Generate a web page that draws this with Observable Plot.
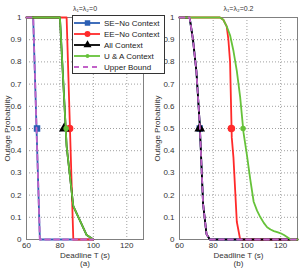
<!DOCTYPE html>
<html><head><meta charset="utf-8">
<script src="https://cdn.jsdelivr.net/npm/d3@7"></script>
<script src="https://cdn.jsdelivr.net/npm/@observablehq/plot@0.6"></script>
<style>
body{margin:0;background:#fff;}
#wrap{position:relative;width:299px;height:270px;overflow:hidden;font-family:"Liberation Sans",Arial,sans-serif;}
#wrap > *{position:absolute;top:0;}
</style></head>
<body><div id="wrap"></div>
<script>
// ---- data ----
const seriesNames = ["SE−No Context","EE−No Context","All Context","U & A Context","Upper Bound"];
const colors = ["#2b5fb4","#ff2a2a","#000000","#66c23a","#c262c8"];
const symbols = ["square","circle","triangle","circle",null];
const xTicks = [60,80,100,120];
const yTicks = [0,0.1,0.2,0.3,0.4,0.5,0.6,0.7,0.8,0.9,1];

// panel (a): lambda = 0
const aSE_T  = [60,64,68,100];            const aSE_P  = [1,1,0,0];
const aEE_T  = [60,84,88,100];            const aEE_P  = [1,1,0,0];
const aAll_T = [60,80,84,88,96,100];      const aAll_P = [1,1,0.42,0.15,0.02,0];
const aUA_T  = [60,80,84,88,96,100];      const aUA_P  = [1,1,0.42,0.15,0.02,0];
const aUB_T  = [60,64,68,100];            const aUB_P  = [1,1,0,0];
const aMarkT = [66.3,85.8,82.6,83.7];     // marker positions at P = 0.5

// panel (b): lambda = 0.2
const bSE_T  = [60,66,68,70,72,74,76,78,130]; const bSE_P  = [1,1,0.9,0.76,0.52,0.16,0.025,0,0];
const bEE_T  = [60,84,86,88,89,90,91,92,94,96,130]; const bEE_P = [1,1,0.99,0.96,0.9,0.8,0.46,0.37,0.08,0,0];
const bAll_T = [60,66,68,70,72,74,76,78,130]; const bAll_P = [1,1,0.9,0.76,0.52,0.16,0.025,0,0];
const bUA_T  = [60,84,86,88,90,92,94,96,98,100,102,104,106,108,110,112,114,116,118,120,122,124,126,130];
const bUA_P  = [1,1,0.99,0.96,0.92,0.85,0.76,0.64,0.48,0.38,0.27,0.17,0.13,0.1,0.075,0.055,0.045,0.038,0.033,0.028,0.02,0.01,0,0];
const bUB_T  = [60,66,68,70,72,74,76,78,130]; const bUB_P  = [1,1,0.9,0.76,0.52,0.16,0.025,0,0];
const bMarkT = [72,90.8,72,97.7];

const font = '"Liberation Sans",Arial,sans-serif';

function zip(T,P){return T.map((t,i)=>({t,p:P[i]}));}

function panel({series, markT, title, sub, width, ml, mr}){
  const marks = [
    Plot.gridX(xTicks.slice(1),{stroke:"#a0a0a0",strokeOpacity:1,strokeDasharray:"1,2"}),
    Plot.gridY(yTicks.slice(1,-1),{stroke:"#a0a0a0",strokeOpacity:1,strokeDasharray:"1,2"}),
    Plot.frame({stroke:"#808080"}),
    Plot.axisX({ticks:xTicks,tickSize:0,tickPadding:3,label:null,fill:"#333"}),
    Plot.axisY({ticks:yTicks,tickSize:0,tickPadding:5,tickFormat:d=>String(d),label:"Outage Probability",labelAnchor:"center",labelOffset:ml-4,labelArrow:"none",fill:"#333"})
  ];
  series.forEach((s,i)=>{
    marks.push(Plot.line(zip(s[0],s[1]),{x:"t",y:"p",stroke:colors[i],strokeWidth:1.8,strokeDasharray:i===4?"5,4":null}));
    if(i<4){
      marks.push(Plot.dot([{t:markT[i],p:0.5}],{x:"t",y:"p",symbol:()=>symbols[i],fill:colors[i],stroke:colors[i],r:i===3?2:(i===0?2.8:3)}));
    }
  });
  marks.push(Plot.text([title],{frameAnchor:"top",dy:-11,fontSize:7,fill:"#333"}));
  marks.push(Plot.text(["Deadline T (s)"],{frameAnchor:"bottom",dy:18,fontSize:8,fill:"#333"}));
  marks.push(Plot.text([sub],{frameAnchor:"bottom",dy:26.5,fontSize:8,fill:"#333"}));
  return Plot.plot({
    width, height:270, marginLeft:ml, marginRight:mr, marginTop:17, marginBottom:31,
    x:{domain:[60,130]}, y:{domain:[0,1]},
    symbol:{type:"identity"},
    style:{fontFamily:font,fontSize:"8px",background:"transparent",overflow:"visible",color:"#333"},
    marks
  });
}

const wrap = document.getElementById("wrap");
const pa = panel({series:[[aSE_T,aSE_P],[aEE_T,aEE_P],[aAll_T,aAll_P],[aUA_T,aUA_P],[aUB_T,aUB_P]],markT:aMarkT,title:"λ₁=λ₂=0",sub:"(a)",width:150,ml:26,mr:7});
pa.style.left="0px";
const pb = panel({series:[[bSE_T,bSE_P],[bEE_T,bEE_P],[bAll_T,bAll_P],[bUA_T,bUA_P],[bUB_T,bUB_P]],markT:bMarkT,title:"λ₁=λ₂=0.2",sub:"(b)",width:149,ml:29,mr:2});
pb.style.left="150px";
wrap.appendChild(pa); wrap.appendChild(pb);

// legend
const lg = d3.create("svg").attr("width",93).attr("height",59).style("left","72px").style("top","15px").style("position","absolute");
lg.append("rect").attr("x",0.5).attr("y",0.5).attr("width",92).attr("height",58).attr("fill","#fff").attr("stroke","#333");
const sym = d3.scaleOrdinal(["square","circle","triangle"],[d3.symbolSquare,d3.symbolCircle,d3.symbolTriangle]);
seriesNames.forEach((n,i)=>{
  const y = 8+i*11;
  lg.append("line").attr("x1",2).attr("x2",28).attr("y1",y).attr("y2",y).attr("stroke",colors[i]).attr("stroke-width",1.8).attr("stroke-dasharray",i===4?"5,4":null);
  if(symbols[i]) lg.append("path").attr("transform",`translate(15.5,${y})`).attr("d",d3.symbol(sym(symbols[i]),i===3?12:i===0?30:28)()).attr("fill",colors[i]);
  lg.append("text").attr("x",32).attr("y",y).attr("dy","0.35em").attr("font-size",8).attr("font-family",font).attr("fill","#222").text(n);
});
wrap.appendChild(lg.node());
</script></body></html>
